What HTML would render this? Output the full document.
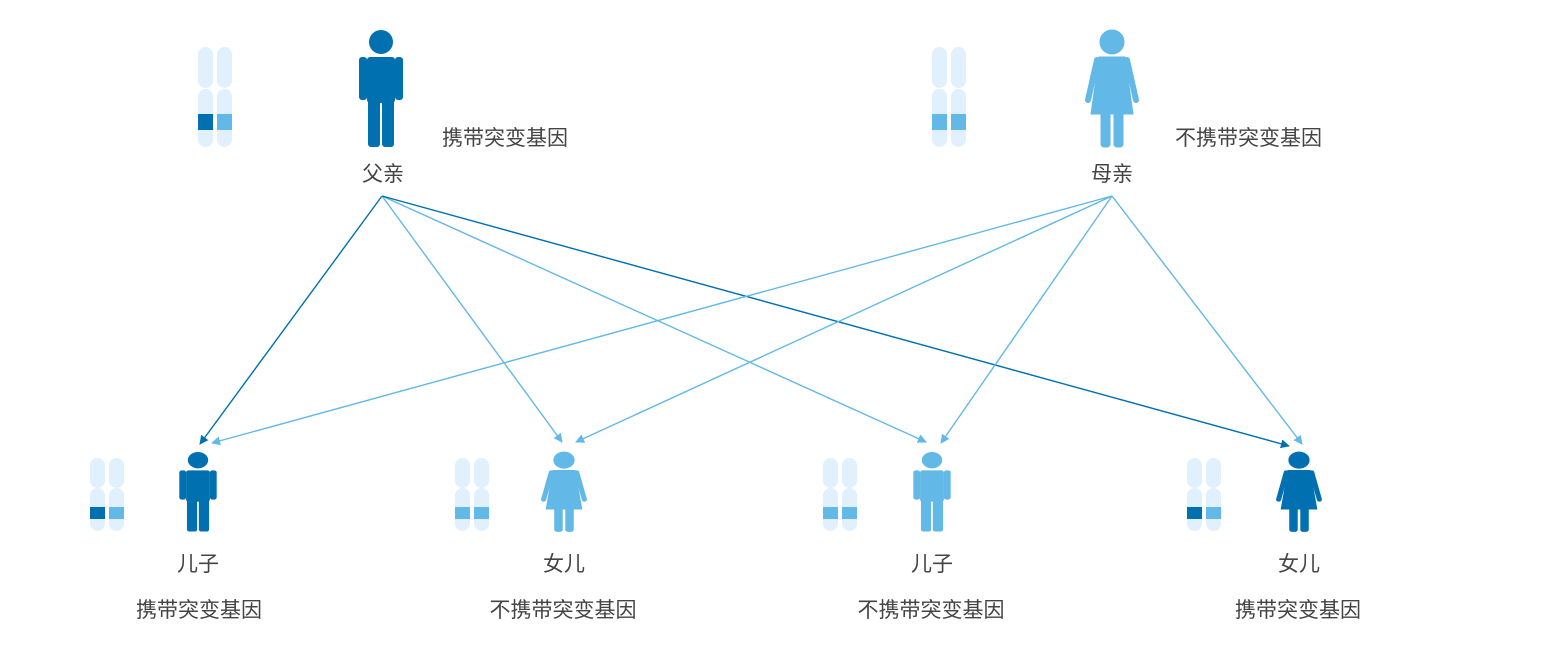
<!DOCTYPE html>
<html><head><meta charset="utf-8"><style>
html,body{margin:0;padding:0;background:#fff;}
svg{display:block;}
text{font-family:"Liberation Sans","Noto Sans CJK SC",sans-serif;font-size:21px;fill:#444;text-anchor:middle;}
</style></head><body>
<svg width="1564" height="666" viewBox="0 0 1564 666" xmlns="http://www.w3.org/2000/svg">
<defs>
  <g id="man">
    <ellipse cx="0" cy="12" rx="12" ry="12"/>
    <rect x="-14" y="27" width="28" height="46" rx="3"/>
    <rect x="-22" y="27" width="8" height="43" rx="3"/>
    <rect x="14" y="27" width="8" height="43" rx="3"/>
    <rect x="-13" y="62" width="12" height="55" rx="3"/>
    <rect x="1" y="62" width="12" height="55" rx="3"/>
  </g>
  <g id="woman">
    <ellipse cx="0" cy="12" rx="12" ry="12"/>
    <path d="M-13,27 L13,27 L21,84 L-21,84 Z"/>
    <line x1="-15" y1="30" x2="-24" y2="70" stroke-width="6" stroke-linecap="round"/>
    <line x1="15" y1="30" x2="24" y2="70" stroke-width="6" stroke-linecap="round"/>
    <rect x="-11" y="78" width="9" height="39" rx="3"/>
    <rect x="2" y="78" width="9" height="39" rx="3"/>
  </g>
  <marker id="ad" viewBox="0 0 10 10" refX="9" refY="5" markerWidth="9" markerHeight="9" orient="auto" markerUnits="userSpaceOnUse"><path d="M0,0 L10,5 L0,10 Z" fill="#0070b0"/></marker>
  <marker id="al" viewBox="0 0 10 10" refX="9" refY="5" markerWidth="9" markerHeight="9" orient="auto" markerUnits="userSpaceOnUse"><path d="M0,0 L10,5 L0,10 Z" fill="#62b8e6"/></marker>
</defs>

<g fill="#e0f0fc">
  <rect x="198" y="47" width="15" height="41" rx="7.5"/><rect x="198" y="89" width="15" height="58" rx="7.5"/>
  <rect x="217" y="47" width="15" height="41" rx="7.5"/><rect x="217" y="89" width="15" height="58" rx="7.5"/>
  <rect x="932" y="47" width="15" height="41" rx="7.5"/><rect x="932" y="89" width="15" height="58" rx="7.5"/>
  <rect x="951" y="47" width="15" height="41" rx="7.5"/><rect x="951" y="89" width="15" height="58" rx="7.5"/>
</g>
<rect x="198" y="114" width="15" height="16" fill="#0070b0"/>
<rect x="217" y="114" width="15" height="16" fill="#62b8e6"/>
<rect x="932" y="114" width="15" height="16" fill="#62b8e6"/>
<rect x="951" y="114" width="15" height="16" fill="#62b8e6"/>

<g id="cc">
  <g fill="#e0f0fc">
    <rect x="90" y="458" width="15" height="30" rx="7.5"/><rect x="90" y="488" width="15" height="43" rx="7.5"/>
    <rect x="109" y="458" width="15" height="30" rx="7.5"/><rect x="109" y="488" width="15" height="43" rx="7.5"/>
  </g>
</g>
<use href="#cc" x="365"/><use href="#cc" x="733"/><use href="#cc" x="1097"/>
<rect x="90" y="507" width="15" height="12" fill="#0070b0"/><rect x="109" y="507" width="15" height="12" fill="#62b8e6"/>
<rect x="455" y="507" width="15" height="12" fill="#62b8e6"/><rect x="474" y="507" width="15" height="12" fill="#62b8e6"/>
<rect x="823" y="507" width="15" height="12" fill="#62b8e6"/><rect x="842" y="507" width="15" height="12" fill="#62b8e6"/>
<rect x="1187" y="507" width="15" height="12" fill="#0070b0"/><rect x="1206" y="507" width="15" height="12" fill="#62b8e6"/>

<use href="#man" transform="translate(381,30)" fill="#0070b0"/>
<use href="#woman" transform="translate(1112,30)" fill="#62b8e6" stroke="#62b8e6"/>
<use href="#man" transform="translate(198,452) scale(0.85,0.68)" fill="#0070b0"/>
<use href="#woman" transform="translate(564,452) scale(0.85,0.68)" fill="#62b8e6" stroke="#62b8e6"/>
<use href="#man" transform="translate(932,452) scale(0.85,0.68)" fill="#62b8e6"/>
<use href="#woman" transform="translate(1299,452) scale(0.85,0.68)" fill="#0070b0" stroke="#0070b0"/>

<g stroke-width="1.4" fill="none">
  <line x1="382" y1="196" x2="200" y2="444" stroke="#0070b0" marker-end="url(#ad)"/>
  <line x1="382" y1="196" x2="562" y2="442" stroke="#62b8e6" marker-end="url(#al)"/>
  <line x1="382" y1="196" x2="926" y2="442" stroke="#62b8e6" marker-end="url(#al)"/>
  <line x1="382" y1="196" x2="1289" y2="446" stroke="#0070b0" marker-end="url(#ad)"/>
  <line x1="1112" y1="196" x2="212" y2="443" stroke="#62b8e6" marker-end="url(#al)"/>
  <line x1="1112" y1="196" x2="576" y2="442" stroke="#62b8e6" marker-end="url(#al)"/>
  <line x1="1112" y1="196" x2="941" y2="443" stroke="#62b8e6" marker-end="url(#al)"/>
  <line x1="1112" y1="196" x2="1302" y2="444" stroke="#62b8e6" marker-end="url(#al)"/>
</g>

<text x="383" y="181">父亲</text>
<text x="1112" y="181">母亲</text>
<text x="442" y="145" style="text-anchor:start">携带突变基因</text>
<text x="1175" y="145" style="text-anchor:start">不携带突变基因</text>
<text x="198" y="571">儿子</text>
<text x="564" y="571">女儿</text>
<text x="932" y="571">儿子</text>
<text x="1299" y="571">女儿</text>
<text x="199" y="617">携带突变基因</text>
<text x="563" y="617">不携带突变基因</text>
<text x="931" y="617">不携带突变基因</text>
<text x="1298" y="617">携带突变基因</text>
</svg>
</body></html>
